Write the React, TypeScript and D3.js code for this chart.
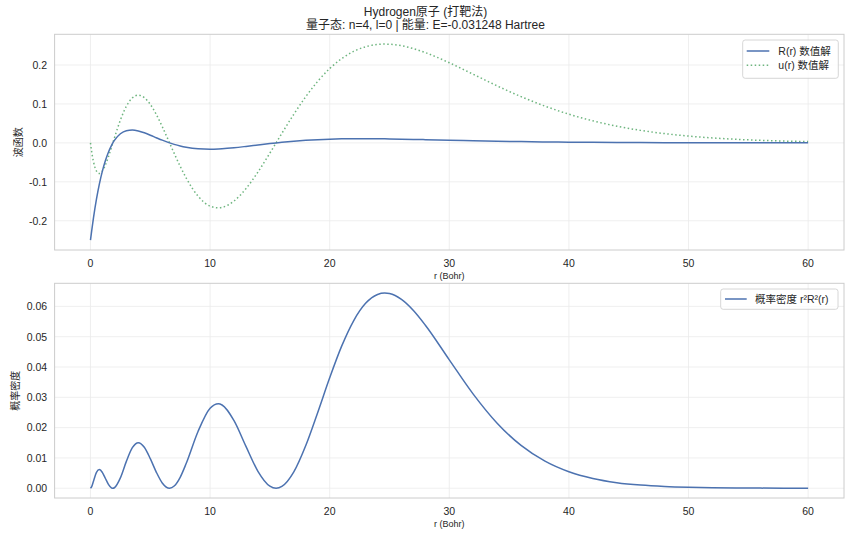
import React from "react";
import * as d3 from "d3";

// Radial grid (Bohr) and numerically solved hydrogen 4s wavefunction samples
const radius = [
  0, 0.1, 0.25, 0.5, 0.75, 1, 1.25, 1.5, 1.75, 1.87, 2, 2.5, 3, 3.5, 4, 4.5, 5, 5.5, 6, 6.61,
  7, 7.5, 8, 9, 10, 10.7, 11, 12, 13, 14, 15, 15.52, 16, 17, 18, 19, 20, 21, 22, 23, 24, 24.6,
  25, 26, 27, 28, 30, 32, 34, 36, 38, 40, 42, 44, 46, 48, 50, 52, 54, 56, 58, 60,
];

// R(r)
const radialR = [
  -0.25, -0.22585, -0.19263, -0.14464, -0.10479, -0.072, -0.04529, -0.02383, -0.00684, 0,
  0.00632, 0.02344, 0.03137, 0.03304, 0.03066, 0.02584, 0.01977, 0.01329, 0.00697, 0,
  -0.00385, -0.00801, -0.01128, -0.01523, -0.01625, -0.0156, -0.01507, -0.01245, -0.00904,
  -0.00535, -0.00175, 0, 0.00153, 0.00433, 0.0066, 0.00833, 0.00955, 0.01031, 0.01069,
  0.01074, 0.01054, 0.01032, 0.01014, 0.0096, 0.00897, 0.00828, 0.00686, 0.00551, 0.00431,
  0.0033, 0.00249, 0.00184, 0.00135, 0.00098, 0.0007, 0.0005, 0.00035, 0.00024, 0.00017,
  0.00012, 0.00008, 0.00006,
];

// u(r) = r R(r)
const reducedU = [
  0, -0.02259, -0.04816, -0.07232, -0.07859, -0.072, -0.05662, -0.03574, -0.01198, 0,
  0.01264, 0.05859, 0.0941, 0.11565, 0.12263, 0.11628, 0.09886, 0.07311, 0.04184, 0,
  -0.02693, -0.06009, -0.09022, -0.1371, -0.16246, -0.16697, -0.16573, -0.14936, -0.11748,
  -0.07486, -0.02618, 0, 0.02442, 0.07357, 0.11873, 0.15817, 0.19091, 0.21652, 0.23508,
  0.24697, 0.25284, 0.25377, 0.25344, 0.2496, 0.24217, 0.23192, 0.20585, 0.17623, 0.1465,
  0.11884, 0.09443, 0.0737, 0.05663, 0.04293, 0.03215, 0.02382, 0.01747, 0.0127, 0.00916,
  0.00656, 0.00467, 0.0033,
];

// r^2 R^2(r)
const density = [
  0, 0.00051, 0.00232, 0.00523, 0.00618, 0.00518, 0.00321, 0.00128, 0.00014, 0,
  0.00016, 0.00343, 0.00886, 0.01337, 0.01504, 0.01352, 0.00977, 0.00534, 0.00175, 0,
  0.00073, 0.00361, 0.00814, 0.0188, 0.02639, 0.02788, 0.02747, 0.02231, 0.0138,
  0.0056, 0.00069, 0, 0.0006, 0.00541, 0.0141, 0.02502, 0.03645, 0.04688, 0.05526,
  0.061, 0.06393, 0.0644, 0.06423, 0.0623, 0.05865, 0.05379, 0.04237, 0.03106, 0.02146,
  0.01412, 0.00892, 0.00543, 0.00321, 0.00184, 0.00103, 0.00057, 0.00031, 0.00016, 0.00008,
  0.00004, 0.00002, 0.00001,
];

const xTicks = [0, 10, 20, 30, 40, 50, 60];
const waveTicks = [-0.2, -0.1, 0, 0.1, 0.2];
const densityTicks = [0, 0.01, 0.02, 0.03, 0.04, 0.05, 0.06];

const titleLine1 = "Hydrogen原子 (打靶法)";
const titleLine2 = "量子态: n=4, l=0 | 能量: E=-0.031248 Hartree";
const xLabel = "r (Bohr)";
const waveLabel = "波函数";
const densityLabel = "概率密度";
const legendR = "R(r) 数值解";
const legendU = "u(r) 数值解";
const legendP = "概率密度 r²R²(r)";

const W = 851;
const H = 539;
const FONT = '"Liberation Sans", Arial, "Noto Sans CJK SC", sans-serif';
const BLUE = "#4c72b0";
const GREEN = "#55a868";
const GRID = "#ebebeb";
const SPINE = "#cccccc";
const TEXT = "#262626";

const locale = d3.formatLocale({
  decimal: ".",
  thousands: ",",
  grouping: [3],
  currency: ["", ""],
  minus: "-",
});

function padded(values: number[]): [number, number] {
  const [lo, hi] = d3.extent(values) as [number, number];
  const m = (hi - lo) * 0.05;
  return [lo - m, hi + m];
}

export default function App() {
  const left = 54.6;
  const right = 844;
  const top1 = 34.3;
  const bot1 = 250;
  const top2 = 283.3;
  const bot2 = 498;

  const x = d3.scaleLinear().domain(padded(radius)).range([left, right]);
  const yWave = d3
    .scaleLinear()
    .domain(padded([...radialR, ...reducedU]))
    .range([bot1, top1]);
  const yDen = d3.scaleLinear().domain(padded(density)).range([bot2, top2]);

  const lineOf = (y: d3.ScaleLinear<number, number>) =>
    d3
      .line<number>()
      .x((_, i) => x(radius[i]))
      .y((d) => y(d))
      .curve(d3.curveMonotoneX);

  const fmtWave = locale.format(".1f");
  const fmtDen = locale.format(".2f");

  const panel = (
    top: number,
    bot: number,
    y: d3.ScaleLinear<number, number>,
    ticks: number[],
    fmt: (n: number) => string,
    yLabel: string,
    yLabelX: number
  ) => (
    <g>
      {xTicks.map((t) => (
        <line key={"gx" + t} x1={x(t)} x2={x(t)} y1={top} y2={bot} stroke={GRID} strokeWidth={0.8} />
      ))}
      {ticks.map((t) => (
        <line key={"gy" + t} x1={left} x2={right} y1={y(t)} y2={y(t)} stroke={GRID} strokeWidth={0.8} />
      ))}
      <rect x={left} y={top} width={right - left} height={bot - top} fill="none" stroke={SPINE} strokeWidth={1} />
      {xTicks.map((t) => (
        <text key={"tx" + t} x={x(t)} y={bot + 16.5} textAnchor="middle" fontSize={10.5} fill={TEXT}>
          {t}
        </text>
      ))}
      {ticks.map((t) => (
        <text key={"ty" + t} x={left - 7.5} y={y(t) + 3.8} textAnchor="end" fontSize={10.5} fill={TEXT}>
          {fmt(t)}
        </text>
      ))}
      <text x={(left + right) / 2} y={bot + 29} textAnchor="middle" fontSize={9} fill={TEXT}>
        {xLabel}
      </text>
      <text
        transform={`translate(${yLabelX},${(top + bot) / 2}) rotate(-90)`}
        textAnchor="middle"
        fontSize={10}
        fill={TEXT}
      >
        {yLabel}
      </text>
    </g>
  );

  return (
    <svg
      width={W}
      height={H}
      style={{ position: "absolute", left: 0, top: 0, background: "#ffffff" }}
      fontFamily={FONT}
    >
      <rect width={W} height={H} fill="#ffffff" />
      <text x={W / 2} y={15.5} textAnchor="middle" fontSize={12} fill={TEXT}>
        {titleLine1}
      </text>
      <text x={W / 2} y={28.8} textAnchor="middle" fontSize={12} fill={TEXT}>
        {titleLine2}
      </text>

      {panel(top1, bot1, yWave, waveTicks, fmtWave, waveLabel, 21.5)}
      <path d={lineOf(yWave)(reducedU) || ""} fill="none" stroke={GREEN} strokeOpacity={0.85} strokeWidth={1.5} strokeDasharray="1.5,2.5" />
      <path d={lineOf(yWave)(radialR) || ""} fill="none" stroke={BLUE} strokeWidth={1.5} />

      <g>
        <rect x={742.7} y={40} width={95.6} height={38.3} rx={2.5} fill="#ffffff" fillOpacity={0.8} stroke={SPINE} strokeWidth={0.8} />
        <line x1={746.7} x2={769.3} y1={51} y2={51} stroke={BLUE} strokeWidth={1.5} />
        <text x={778.3} y={54.8} fontSize={10.5} fill={TEXT}>{legendR}</text>
        <line x1={746.7} x2={769.3} y1={65.3} y2={65.3} stroke={GREEN} strokeOpacity={0.85} strokeWidth={1.5} strokeDasharray="1.5,2.5" />
        <text x={778.3} y={69.1} fontSize={10.5} fill={TEXT}>{legendU}</text>
      </g>

      {panel(top2, bot2, yDen, densityTicks, fmtDen, densityLabel, 18.5)}
      <path d={lineOf(yDen)(density) || ""} fill="none" stroke={BLUE} strokeWidth={1.5} />

      <g>
        <rect x={720.7} y={289} width={117.3} height={20.3} rx={2.5} fill="#ffffff" fillOpacity={0.8} stroke={SPINE} strokeWidth={0.8} />
        <line x1={725} x2={746.7} y1={299} y2={299} stroke={BLUE} strokeWidth={1.5} />
        <text x={755} y={302.8} fontSize={10.5} fill={TEXT}>{legendP}</text>
      </g>
    </svg>
  );
}
